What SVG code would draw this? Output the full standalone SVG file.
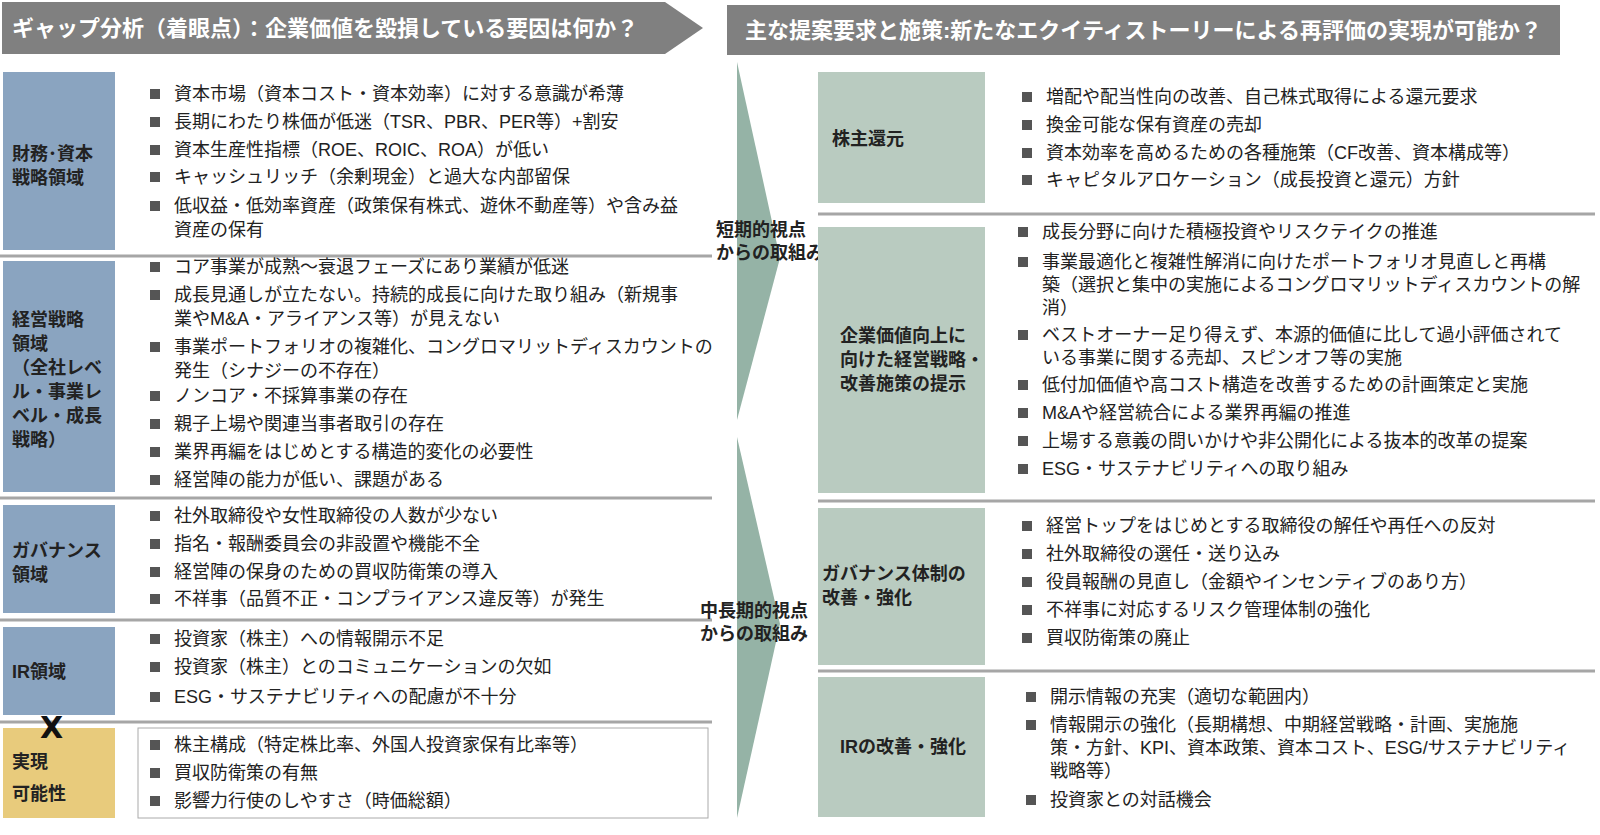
<svg xmlns="http://www.w3.org/2000/svg" width="1600" height="835" viewBox="0 0 1600 835">
<style>
text{font-family:"Liberation Sans","Noto Sans CJK JP",sans-serif;font-size:18px;fill:#222}
.h{fill:#fff;font-size:22px;font-weight:bold}
.c{font-weight:bold;font-size:18px}
.r{font-weight:bold}
.x{font-size:30px;font-weight:bold;font-family:"DejaVu Sans",sans-serif;fill:#111}
.sep{stroke:#a6a6a6;stroke-width:3}
</style>
<defs><rect id="sq" width="10" height="10" fill="#555"/></defs>
<rect width="1600" height="835" fill="#fff"/>
<g id="header-left"><polygon points="2,2 665,2 703,28 665,54 2,54" fill="#808080"/><text class="h" x="12" y="36">ギャップ分析（着眼点）：企業価値を毀損している要因は何か？</text></g>
<g id="header-right"><rect x="727" y="5" width="833" height="50" fill="#808080"/><text class="h" x="745" y="38">主な提案要求と施策:新たなエクイティストーリーによる再評価の実現が可能か？</text></g>
<g id="connectors">
<line class="sep" x1="0" y1="256" x2="712" y2="256"/><line class="sep" x1="0" y1="498" x2="712" y2="498"/><line class="sep" x1="0" y1="620" x2="712" y2="620"/><line class="sep" x1="0" y1="722" x2="712" y2="722"/>
<line class="sep" x1="818" y1="214" x2="1595" y2="214"/><line class="sep" x1="818" y1="501" x2="1595" y2="501"/><line class="sep" x1="818" y1="671" x2="1595" y2="671"/>
</g>
<g id="arrow-short"><polygon points="737,62 780,258 737,420" fill="#95b3a6"/><text x="716" y="236" font-weight="bold">短期的視点</text><text x="716" y="259" font-weight="bold">からの取組み</text></g>
<g id="arrow-long"><polygon points="737,437 780,624 737,818" fill="#95b3a6"/><text x="700" y="617" font-weight="bold">中長期的視点</text><text x="700" y="640" font-weight="bold">からの取組み</text></g>
<g id="left-finance"><rect x="3" y="72" width="112" height="178" fill="#8aa4c0"/><text class="c" x="12" y="160">財務･資本</text><text class="c" x="12" y="184">戦略領域</text>
<use href="#sq" x="150" y="89"/><text x="174" y="100">資本市場（資本コスト・資本効率）に対する意識が希薄</text>
<use href="#sq" x="150" y="117"/><text x="174" y="128">長期にわたり株価が低迷（TSR、PBR、PER等）+割安</text>
<use href="#sq" x="150" y="145"/><text x="174" y="156">資本生産性指標（ROE、ROIC、ROA）が低い</text>
<use href="#sq" x="150" y="172"/><text x="174" y="183">キャッシュリッチ（余剰現金）と過大な内部留保</text>
<use href="#sq" x="150" y="201"/><text x="174" y="212">低収益・低効率資産（政策保有株式、遊休不動産等）や含み益</text><text x="174" y="236">資産の保有</text></g>
<g id="left-strategy"><rect x="3" y="261" width="112" height="231" fill="#8aa4c0"/><text class="c" x="12" y="326">経営戦略</text><text class="c" x="12" y="350">領域</text><text class="c" x="12" y="374">（全社レベ</text><text class="c" x="12" y="398">ル・事業レ</text><text class="c" x="12" y="422">ベル・成長</text><text class="c" x="12" y="446">戦略）</text>
<use href="#sq" x="150" y="262"/><text x="174" y="273">コア事業が成熟～衰退フェーズにあり業績が低迷</text>
<use href="#sq" x="150" y="290"/><text x="174" y="301">成長見通しが立たない。持続的成長に向けた取り組み（新規事</text><text x="174" y="325">業やM&amp;A・アライアンス等）が見えない</text>
<use href="#sq" x="150" y="342"/><text x="174" y="353">事業ポートフォリオの複雑化、コングロマリットディスカウントの</text><text x="174" y="377">発生（シナジーの不存在）</text>
<use href="#sq" x="150" y="391"/><text x="174" y="402">ノンコア・不採算事業の存在</text>
<use href="#sq" x="150" y="419"/><text x="174" y="430">親子上場や関連当事者取引の存在</text>
<use href="#sq" x="150" y="447"/><text x="174" y="458">業界再編をはじめとする構造的変化の必要性</text>
<use href="#sq" x="150" y="475"/><text x="174" y="486">経営陣の能力が低い、課題がある</text></g>
<g id="left-governance"><rect x="3" y="505" width="112" height="108" fill="#8aa4c0"/><text class="c" x="12" y="557">ガバナンス</text><text class="c" x="12" y="581">領域</text>
<use href="#sq" x="150" y="511"/><text x="174" y="522">社外取締役や女性取締役の人数が少ない</text>
<use href="#sq" x="150" y="539"/><text x="174" y="550">指名・報酬委員会の非設置や機能不全</text>
<use href="#sq" x="150" y="567"/><text x="174" y="578">経営陣の保身のための買収防衛策の導入</text>
<use href="#sq" x="150" y="594"/><text x="174" y="605">不祥事（品質不正・コンプライアンス違反等）が発生</text></g>
<g id="left-ir"><rect x="3" y="627" width="112" height="88" fill="#8aa4c0"/><text class="c" x="12" y="678">IR領域</text>
<use href="#sq" x="150" y="634"/><text x="174" y="645">投資家（株主）への情報開示不足</text>
<use href="#sq" x="150" y="662"/><text x="174" y="673">投資家（株主）とのコミュニケーションの欠如</text>
<use href="#sq" x="150" y="692"/><text x="174" y="703">ESG・サステナビリティへの配慮が不十分</text></g>
<g id="left-feasibility"><rect x="3" y="728" width="112" height="90" fill="#e8cb7c"/><text class="x" x="40" y="738">X</text><text class="c" x="12" y="768">実現</text><text class="c" x="12" y="800">可能性</text>
<rect x="138" y="728" width="570" height="90" fill="none" stroke="#aaa" stroke-width="1"/>
<use href="#sq" x="150" y="740"/><text x="174" y="751">株主構成（特定株比率、外国人投資家保有比率等）</text>
<use href="#sq" x="150" y="768"/><text x="174" y="779">買収防衛策の有無</text>
<use href="#sq" x="150" y="796"/><text x="174" y="807">影響力行使のしやすさ（時価総額）</text></g>
<g id="right-return"><rect x="818" y="72" width="167" height="131" fill="#b9cbc0"/><text class="r" x="832" y="145">株主還元</text>
<use href="#sq" x="1022" y="92"/><text x="1046" y="103">増配や配当性向の改善、自己株式取得による還元要求</text>
<use href="#sq" x="1022" y="120"/><text x="1046" y="131">換金可能な保有資産の売却</text>
<use href="#sq" x="1022" y="148"/><text x="1046" y="159">資本効率を高めるための各種施策（CF改善、資本構成等）</text>
<use href="#sq" x="1022" y="175"/><text x="1046" y="186">キャピタルアロケーション（成長投資と還元）方針</text></g>
<g id="right-strategy"><rect x="818" y="227" width="167" height="266" fill="#b9cbc0"/><text class="r" x="840" y="342">企業価値向上に</text><text class="r" x="840" y="366">向けた経営戦略・</text><text class="r" x="840" y="390">改善施策の提示</text>
<use href="#sq" x="1018" y="227"/><text x="1042" y="238">成長分野に向けた積極投資やリスクテイクの推進</text>
<use href="#sq" x="1018" y="257"/><text x="1042" y="268">事業最適化と複雑性解消に向けたポートフォリオ見直しと再構</text><text x="1042" y="291">築（選択と集中の実施によるコングロマリットディスカウントの解</text><text x="1042" y="314">消）</text>
<use href="#sq" x="1018" y="330"/><text x="1042" y="341">ベストオーナー足り得えず、本源的価値に比して過小評価されて</text><text x="1042" y="364">いる事業に関する売却、スピンオフ等の実施</text>
<use href="#sq" x="1018" y="380"/><text x="1042" y="391">低付加価値や高コスト構造を改善するための計画策定と実施</text>
<use href="#sq" x="1018" y="408"/><text x="1042" y="419">M&amp;Aや経営統合による業界再編の推進</text>
<use href="#sq" x="1018" y="436"/><text x="1042" y="447">上場する意義の問いかけや非公開化による抜本的改革の提案</text>
<use href="#sq" x="1018" y="464"/><text x="1042" y="475">ESG・サステナビリティへの取り組み</text></g>
<g id="right-governance"><rect x="818" y="508" width="167" height="157" fill="#b9cbc0"/><text class="r" x="822" y="580">ガバナンス体制の</text><text class="r" x="822" y="604">改善・強化</text>
<use href="#sq" x="1022" y="521"/><text x="1046" y="532">経営トップをはじめとする取締役の解任や再任への反対</text>
<use href="#sq" x="1022" y="549"/><text x="1046" y="560">社外取締役の選任・送り込み</text>
<use href="#sq" x="1022" y="577"/><text x="1046" y="588">役員報酬の見直し（金額やインセンティブのあり方）</text>
<use href="#sq" x="1022" y="605"/><text x="1046" y="616">不祥事に対応するリスク管理体制の強化</text>
<use href="#sq" x="1022" y="633"/><text x="1046" y="644">買収防衛策の廃止</text></g>
<g id="right-ir"><rect x="818" y="677" width="167" height="140" fill="#b9cbc0"/><text class="r" x="840" y="753">IRの改善・強化</text>
<use href="#sq" x="1026" y="692"/><text x="1050" y="703">開示情報の充実（適切な範囲内）</text>
<use href="#sq" x="1026" y="720"/><text x="1050" y="731">情報開示の強化（長期構想、中期経営戦略・計画、実施施</text><text x="1050" y="754">策・方針、KPI、資本政策、資本コスト、ESG/サステナビリティ</text><text x="1050" y="777">戦略等）</text>
<use href="#sq" x="1026" y="795"/><text x="1050" y="806">投資家との対話機会</text></g>
</svg>
